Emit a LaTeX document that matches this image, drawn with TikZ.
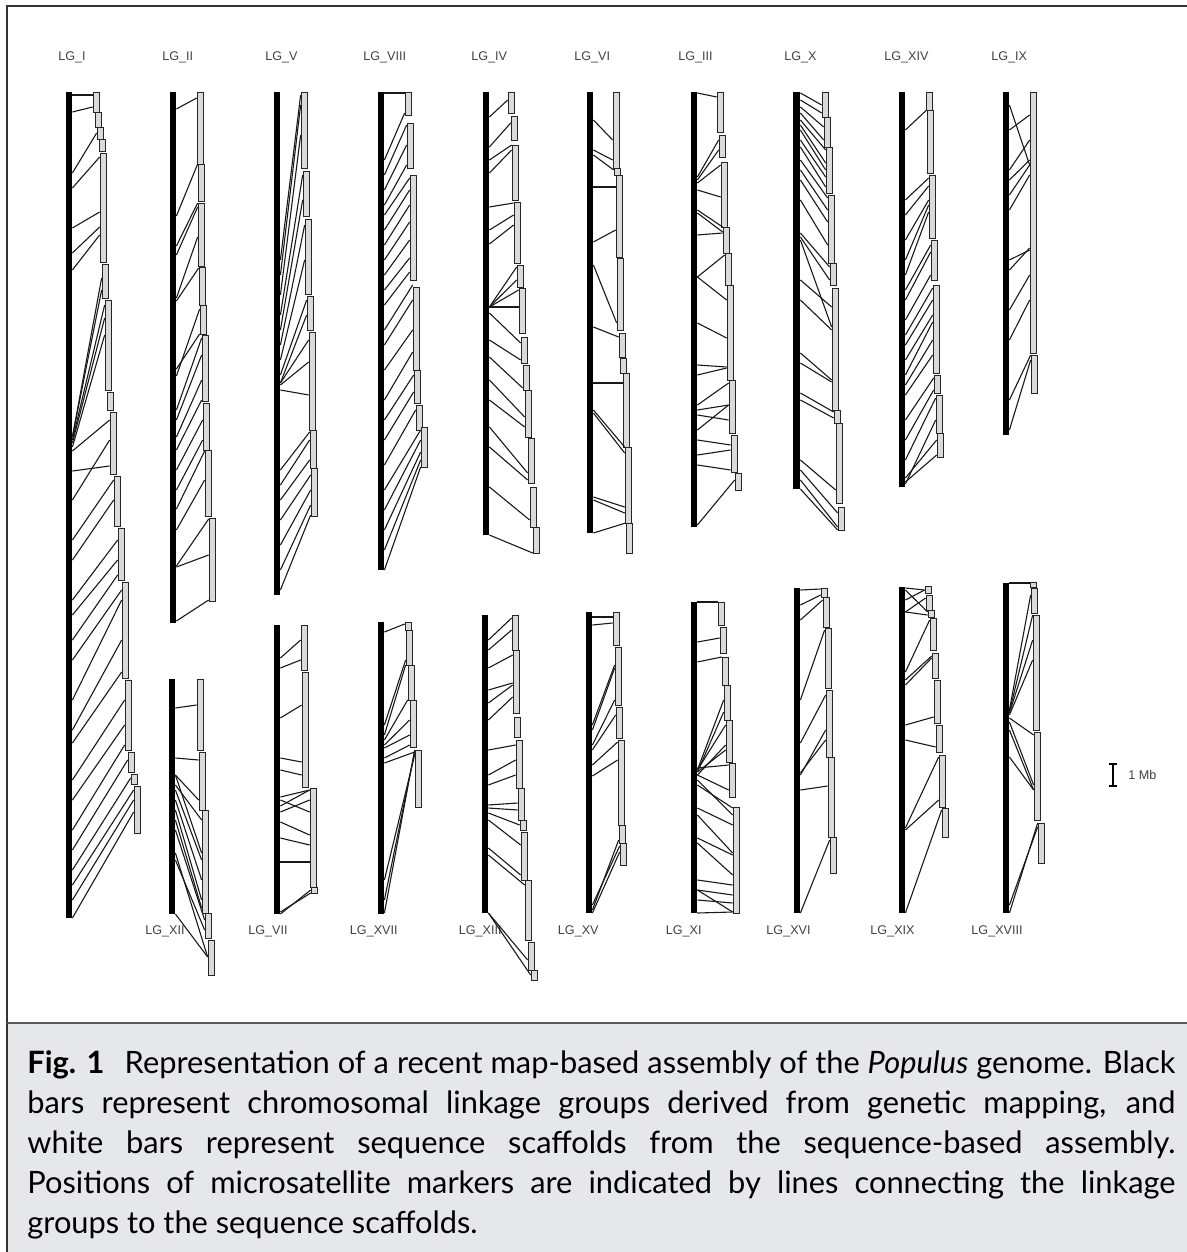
\documentclass[tikz,border=0pt]{standalone}
\usepackage{fontspec}
\setmainfont{Lato}
\newfontfamily\lgfont{Liberation Sans}
\usepackage{tikz}
\usetikzlibrary{positioning,fit,arrows.meta}
\definecolor{capGray}{HTML}{E6E7E9}
\definecolor{scafFill}{HTML}{DADADA}

\begin{document}
\begin{tikzpicture}[
    x=0.5pt, y=-0.5pt,
    lgbar/.style={fill=black, draw=none, inner sep=0pt},
    scaf/.style={draw=black!85, fill=scafFill, line width=0.35pt, inner sep=0pt},
    mk/.style={line width=0.55pt, black!90},
    lglabel/.style={font=\lgfont\fontsize{6.3}{7}\selectfont, text=black!75, inner sep=0pt}
  ]
  \useasboundingbox (0,0) rectangle (1187,1252);

  % frame and caption band
  \fill[capGray] (7,1023) rectangle (1200,1265);
  \draw[black!80, line width=0.7pt] (7,6) rectangle (1200,1265);
  \draw[black!65, line width=0.8pt] (7,1023) -- (1200,1023);

  % LG_I
  \node[lgbar, fit={(66,92) (72,918)}] (lgI) {};
  \node[lglabel, anchor=west] (lgI-lab) at (58,57) {LG\_I};
  \foreach \sx/\st/\sb [count=\k] in {93/92/112, 95/112/127, 97/127/139, 99/139/151, 100/153/262,
      102/264/298, 105/300/390, 107/392/410, 110/412/474, 114/476/526, 118/528/580, 122/582/678,
      125/680/750, 128/752/772, 131/774/784, 134/786/833}
    \node[scaf, fit={(\sx,\st) (\sx+6,\sb)}] (lgI-\k) {};
  \foreach \ya/\k/\yb in {95/1/95, 112/1/107, 173/3/133, 188/5/157, 228/5/212, 253/5/227, 270/5/235,
      437/6/278, 437/6/290, 440/7/305, 443/7/318, 447/7/335, 451/9/420, 471/9/466, 500/9/440,
      540/10/480, 560/10/500, 600/11/540, 615/11/560, 640/11/575, 660/12/590, 700/12/600,
      730/12/640, 743/12/672, 780/13/700, 800/13/725, 830/13/745, 850/14/760, 870/15/778,
      885/16/790, 900/16/800, 918/16/812}
    \draw[mk] (lgI.east |- 0,\ya) -- (lgI-\k.west |- 0,\yb);

  % LG_II
  \node[lgbar, fit={(170,92) (176,623)}] (lgII) {};
  \node[lglabel, anchor=west] (lgII-lab) at (162,57) {LG\_II};
  \foreach \sx/\st/\sb [count=\k] in {197/92/164, 198/164/201, 198/203/266, 199/267/305, 200/305/334,
      202/335/401, 203/403/450, 205/450/516, 209/518/601}
    \node[scaf, fit={(\sx,\st) (\sx+6,\sb)}] (lgII-\k) {};
  \foreach \ya/\k/\yb in {109/1/98, 216/2/164, 246/3/203, 255/3/207, 298/3/237, 301/4/268, 369/5/334,
      376/5/309, 410/6/338, 420/6/355, 437/6/380, 450/6/400, 470/7/420, 490/7/440, 509/8/451,
      530/8/480, 566/9/519, 567/9/555, 621/9/600}
    \draw[mk] (lgII.east |- 0,\ya) -- (lgII-\k.west |- 0,\yb);

  % LG_V
  \node[lgbar, fit={(274,92) (280,595)}] (lgV) {};
  \node[lglabel, anchor=west] (lgV-lab) at (265,57) {LG\_V};
  \foreach \sx/\st/\sb [count=\k] in {301/92/168, 303/171/216, 305/219/294, 307/296/330, 309/332/430,
      310/430/468, 311/468/516}
    \node[scaf, fit={(\sx,\st) (\sx+6,\sb)}] (lgV-\k) {};
  \foreach \ya/\k/\yb in {260/1/95, 275/1/105, 295/1/135, 315/2/175, 330/2/200, 345/3/225, 360/3/260,
      375/4/300, 383/4/315, 383/5/340, 385/5/362, 390/5/395, 470/6/432, 485/6/440, 500/6/460,
      520/7/475, 545/7/490, 570/7/505, 590/7/515}
    \draw[mk] (lgV.east |- 0,\ya) -- (lgV-\k.west |- 0,\yb);

  % LG_VIII
  \node[lgbar, fit={(378,92) (384,570)}] (lgVIII) {};
  \node[lglabel, anchor=west] (lgVIII-lab) at (363,57) {LG\_VIII};
  \foreach \sx/\st/\sb [count=\k] in {405/92/115, 407/123/168, 410/175/280, 413/287/370, 414/370/403,
      416/405/430, 421/427/467}
    \node[scaf, fit={(\sx,\st) (\sx+6,\sb)}] (lgVIII-\k) {};
  \foreach \ya/\k/\yb in {93/1/93, 160/1/113, 175/2/125, 190/2/145, 205/2/165, 215/3/178, 230/3/190,
      245/3/205, 260/3/222, 275/3/240, 290/3/258, 305/3/272, 330/4/285, 345/4/300, 370/4/330,
      400/4/352, 420/5/375, 440/5/392, 465/6/410, 490/7/430, 510/7/440, 530/7/452, 550/7/460,
      570/7/467}
    \draw[mk] (lgVIII.east |- 0,\ya) -- (lgVIII-\k.west |- 0,\yb);

  % LG_IV
  \node[lgbar, fit={(483,92) (489,535)}] (lgIV) {};
  \node[lglabel, anchor=west] (lgIV-lab) at (471,57) {LG\_IV};
  \foreach \sx/\st/\sb [count=\k] in {508/92/113, 511/116/140, 512/145/200, 514/202/263, 517/265/287,
      519/288/333, 521/337/363, 523/365/390, 525/390/437, 528/438/483, 530/487/527, 533/527/553}
    \node[scaf, fit={(\sx,\st) (\sx+6,\sb)}] (lgIV-\k) {};
  \foreach \ya/\k/\yb in {117/1/100, 147/2/123, 160/3/145, 173/3/150, 207/4/203, 230/4/215, 244/4/225,
      307/5/267, 307/5/280, 307/6/290, 307/6/307, 313/7/343, 340/7/360, 357/8/388, 380/9/417,
      400/9/427, 427/10/473, 447/10/480, 487/11/520, 535/12/553}
    \draw[mk] (lgIV.east |- 0,\ya) -- (lgIV-\k.west |- 0,\yb);

  % LG_VI
  \node[lgbar, fit={(587,92) (593,533)}] (lgVI) {};
  \node[lglabel, anchor=west] (lgVI-lab) at (574,57) {LG\_VI};
  \foreach \sx/\st/\sb [count=\k] in {613/92/168, 614/168/175, 616/175/257, 617/258/330, 619/333/357,
      620/358/373, 623/373/447, 625/447/523, 626/523/553}
    \node[scaf, fit={(\sx,\st) (\sx+6,\sb)}] (lgVI-\k) {};
  \foreach \ya/\k/\yb in {120/1/140, 150/1/160, 155/2/170, 187/3/187, 242/3/230, 265/4/323, 327/5/337,
      383/7/383, 410/8/447, 413/8/453, 497/8/507, 500/8/513, 533/9/523}
    \draw[mk] (lgVI.east |- 0,\ya) -- (lgVI-\k.west |- 0,\yb);

  % LG_III
  \node[lgbar, fit={(691,92) (697,527)}] (lgIII) {};
  \node[lglabel, anchor=west] (lgIII-lab) at (678,57) {LG\_III};
  \foreach \sx/\st/\sb [count=\k] in {717/92/132, 719/135/157, 721/162/227, 723/227/253, 725/253/285,
      727/285/380, 729/380/433, 731/435/472, 735/473/490}
    \node[scaf, fit={(\sx,\st) (\sx+6,\sb)}] (lgIII-\k) {};
  \foreach \ya/\k/\yb in {93/1/97, 177/2/140, 180/2/150, 183/3/165, 190/3/197, 210/4/227, 213/4/232,
      235/4/233, 277/5/255, 277/6/300, 323/6/338, 365/6/367, 375/6/368, 405/7/383, 410/7/405,
      415/7/420, 430/7/405, 440/8/445, 455/8/450, 465/8/470, 525/9/480}
    \draw[mk] (lgIII.east |- 0,\ya) -- (lgIII-\k.west |- 0,\yb);

  % LG_X
  \node[lgbar, fit={(793,92) (800,489)}] (lgX) {};
  \node[lglabel, anchor=west] (lgX-lab) at (784,57) {LG\_X};
  \foreach \sx/\st/\sb [count=\k] in {822/92/117, 824/117/147, 826/147/193, 828/195/263, 830/263/285,
      832/288/410, 834/410/423, 836/423/503, 838/507/530}
    \node[scaf, fit={(\sx,\st) (\sx+6,\sb)}] (lgX-\k) {};
  \foreach \ya/\k/\yb in {93/1/105, 100/1/113, 107/2/127, 113/2/140, 120/3/150, 125/3/163, 130/3/170,
      140/3/177, 147/3/187, 160/4/198, 170/4/210, 180/4/222, 200/4/245, 233/5/267, 237/5/280,
      240/6/327, 280/6/307, 300/6/330, 353/6/380, 363/6/382, 393/7/412, 400/7/418, 460/8/490,
      470/9/513, 480/9/527, 489/9/530}
    \draw[mk] (lgX.east |- 0,\ya) -- (lgX-\k.west |- 0,\yb);

  % LG_XIV
  \node[lgbar, fit={(899,92) (905,487)}] (lgXIV) {};
  \node[lglabel, anchor=west] (lgXIV-lab) at (884,57) {LG\_XIV};
  \foreach \sx/\st/\sb [count=\k] in {926/92/110, 927/110/173, 929/175/238, 931/240/280, 933/285/373,
      934/375/393, 936/395/433, 937/433/457}
    \node[scaf, fit={(\sx,\st) (\sx+6,\sb)}] (lgXIV-\k) {};
  \foreach \ya/\k/\yb in {130/2/110, 200/3/178, 215/3/186, 240/3/200, 260/3/205, 275/3/212, 290/4/245,
      300/4/252, 320/4/275, 335/5/288, 345/5/300, 360/5/315, 375/5/322, 385/5/340, 395/5/355,
      420/6/378, 440/6/390, 460/7/398, 478/8/440, 482/8/455, 484/7/420}
    \draw[mk] (lgXIV.east |- 0,\ya) -- (lgXIV-\k.west |- 0,\yb);

  % LG_IX
  \node[lgbar, fit={(1003,92) (1009,435)}] (lgIX) {};
  \node[lglabel, anchor=west] (lgIX-lab) at (991,57) {LG\_IX};
  \foreach \sx/\st/\sb [count=\k] in {1030/92/353, 1031/355/393}
    \node[scaf, fit={(\sx,\st) (\sx+6,\sb)}] (lgIX-\k) {};
  \foreach \ya/\k/\yb in {130/1/115, 105/1/165, 170/1/140, 180/1/160, 195/1/165, 210/1/175, 260/1/250,
      270/1/248, 310/1/275, 340/1/300, 400/2/355, 430/2/360}
    \draw[mk] (lgIX.east |- 0,\ya) -- (lgIX-\k.west |- 0,\yb);

  % LG_XII
  \node[lgbar, fit={(169,679) (175,914)}] (lgXII) {};
  \node[lglabel, anchor=east] (lgXII-lab) at (185,931) {LG\_XII};
  \foreach \sx/\st/\sb [count=\k] in {197/679/750, 199/752/810, 202/810/913, 205/913/938, 208/940/975}
    \node[scaf, fit={(\sx,\st) (\sx+6,\sb)}] (lgXII-\k) {};
  \foreach \ya/\k/\yb in {708/1/705, 758/2/760, 775/2/800, 775/3/853, 785/3/820, 790/3/860, 800/3/880,
      810/3/900, 820/3/908, 830/4/920, 860/4/930, 914/5/957, 853/5/957}
    \draw[mk] (lgXII.east |- 0,\ya) -- (lgXII-\k.west |- 0,\yb);

  % LG_VII
  \node[lgbar, fit={(274,625) (280,914)}] (lgVII) {};
  \node[lglabel, anchor=east] (lgVII-lab) at (288,931) {LG\_VII};
  \foreach \sx/\st/\sb [count=\k] in {301/625/670, 302/672/787, 310/788/887, 311/887/893}
    \node[scaf, fit={(\sx,\st) (\sx+6,\sb)}] (lgVII-\k) {};
  \foreach \ya/\k/\yb in {658/1/640, 668/1/660, 718/2/705, 758/2/762, 770/2/775, 797/3/790, 800/3/812,
      806/3/790, 812/3/800, 822/3/835, 838/3/845, 862/3/862, 914/4/890, 912/4/893}
    \draw[mk] (lgVII.east |- 0,\ya) -- (lgVII-\k.west |- 0,\yb);

  % LG_XVII
  \node[lgbar, fit={(378,622) (384,914)}] (lgXVII) {};
  \node[lglabel, anchor=east] (lgXVII-lab) at (398,931) {LG\_XVII};
  \foreach \sx/\st/\sb [count=\k] in {405/622/630, 406/630/665, 408/665/700, 410/700/747, 415/750/807}
    \node[scaf, fit={(\sx,\st) (\sx+6,\sb)}] (lgXVII-\k) {};
  \foreach \ya/\k/\yb in {632/1/624, 725/2/660, 735/2/665, 740/3/700, 745/4/720, 748/4/735, 758/4/745,
      763/5/752, 880/5/755, 900/5/752, 913/5/750}
    \draw[mk] (lgXVII.east |- 0,\ya) -- (lgXVII-\k.west |- 0,\yb);

  % LG_XIII
  \node[lgbar, fit={(482,615) (488,913)}] (lgXIII) {};
  \node[lglabel, anchor=east] (lgXIII-lab) at (502,931) {LG\_XIII};
  \foreach \sx/\st/\sb [count=\k] in {512/615/650, 513/650/713, 514/717/737, 516/740/788, 518/788/820,
      520/820/830, 521/832/880, 525/880/940, 528/942/970, 531/970/980}
    \node[scaf, fit={(\sx,\st) (\sx+6,\sb)}] (lgXIII-\k) {};
  \foreach \ya/\k/\yb in {640/1/618, 650/1/630, 668/2/655, 690/2/683, 703/2/685, 720/2/697, 750/4/745,
      775/4/760, 785/4/775, 805/5/803, 808/5/810, 813/6/825, 820/7/845, 848/7/875, 855/8/885,
      913/9/960, 913/10/975}
    \draw[mk] (lgXIII.east |- 0,\ya) -- (lgXIII-\k.west |- 0,\yb);

  % LG_XV
  \node[lgbar, fit={(586,612) (592,913)}] (lgXV) {};
  \node[lglabel, anchor=east] (lgXV-lab) at (599,931) {LG\_XV};
  \foreach \sx/\st/\sb [count=\k] in {613/612/645, 615/647/705, 616/707/738, 618/740/825, 619/825/843,
      620/843/865}
    \node[scaf, fit={(\sx,\st) (\sx+6,\sb)}] (lgXV-\k) {};
  \foreach \ya/\k/\yb in {617/1/617, 625/1/623, 725/2/665, 730/2/668, 745/2/700, 750/3/715, 765/4/742,
      776/4/760, 905/6/846, 910/5/840, 913/6/852}
    \draw[mk] (lgXV.east |- 0,\ya) -- (lgXV-\k.west |- 0,\yb);

  % LG_XI
  \node[lgbar, fit={(691,602) (697,913)}] (lgXI) {};
  \node[lglabel, anchor=east] (lgXI-lab) at (702,931) {LG\_XI};
  \foreach \sx/\st/\sb [count=\k] in {718/602/625, 720/627/653, 722/657/685, 724/685/720, 726/720/762,
      729/763/797, 733/807/913}
    \node[scaf, fit={(\sx,\st) (\sx+6,\sb)}] (lgXI-\k) {};
  \foreach \ya/\k/\yb in {602/1/602, 642/2/638, 662/3/657, 770/4/700, 772/4/712, 770/5/725, 775/5/745,
      772/5/750, 768/6/765, 775/6/790, 780/7/815, 785/7/808, 808/7/825, 815/7/853, 838/7/855,
      843/7/875, 880/7/885, 890/7/895, 900/7/903, 913/7/912, 890/7/912}
    \draw[mk] (lgXI.east |- 0,\ya) -- (lgXI-\k.west |- 0,\yb);

  % LG_XVI
  \node[lgbar, fit={(794,588) (800,913)}] (lgXVI) {};
  \node[lglabel, anchor=east] (lgXVI-lab) at (811,931) {LG\_XVI};
  \foreach \sx/\st/\sb [count=\k] in {821/588/597, 823/597/627, 825/628/688, 826/690/757, 828/757/837,
      830/837/873}
    \node[scaf, fit={(\sx,\st) (\sx+6,\sb)}] (lgXVI-\k) {};
  \foreach \ya/\k/\yb in {590/1/589, 605/1/595, 620/2/600, 700/3/630, 743/4/695, 775/4/730, 773/4/740,
      790/5/786, 913/6/840}
    \draw[mk] (lgXVI.east |- 0,\ya) -- (lgXVI-\k.west |- 0,\yb);

  % LG_XIX
  \node[lgbar, fit={(899,587) (905,913)}] (lgXIX) {};
  \node[lglabel, anchor=east] (lgXIX-lab) at (915,931) {LG\_XIX};
  \foreach \sx/\st/\sb [count=\k] in {925/586/593, 926/595/610, 928/610/617, 930/618/650, 932/653/678,
      934/680/723, 936/725/752, 939/755/807, 942/808/837}
    \node[scaf, fit={(\sx,\st) (\sx+6,\sb)}] (lgXIX-\k) {};
  \foreach \ya/\k/\yb in {588/1/590, 600/1/590, 612/2/598, 590/3/612, 612/3/615, 672/4/620, 680/5/656,
      685/5/658, 725/6/717, 740/7/747, 828/8/757, 830/8/800, 913/9/810}
    \draw[mk] (lgXIX.east |- 0,\ya) -- (lgXIX-\k.west |- 0,\yb);

  % LG_XVIII
  \node[lgbar, fit={(1003,583) (1009,913)}] (lgXVIII) {};
  \node[lglabel, anchor=east] (lgXVIII-lab) at (1023,931) {LG\_XVIII};
  \foreach \sx/\st/\sb [count=\k] in {1030/582/587, 1031/588/613, 1033/615/730, 1034/732/820,
      1038/823/863}
    \node[scaf, fit={(\sx,\st) (\sx+6,\sb)}] (lgXVIII-\k) {};
  \foreach \ya/\k/\yb in {583/1/583, 710/2/595, 712/3/615, 713/3/640, 715/3/660, 718/4/735, 722/4/785,
      730/4/790, 757/4/790, 913/5/823, 905/5/827}
    \draw[mk] (lgXVIII.east |- 0,\ya) -- (lgXVIII-\k.west |- 0,\yb);

  % scale
  \coordinate (mbtop) at (1113,763);
  \coordinate (mbbot) at (1113,787);
  \draw[{Bar[width=4pt]}-{Bar[width=4pt]}, line width=0.9pt] (mbtop) -- (mbbot);
  \node[lglabel, anchor=west] (mb) at (1128,775) {1 Mb};

  % caption
  \node[anchor=north west, text width=574pt, align=justify, inner sep=0pt,
        font=\fontsize{15.4}{20}\selectfont] (caption) at (27,1050)
    {\textbf{Fig. 1}\hspace{0.4em} Representation of a recent map-based assembly of the \textit{Populus} genome. Black\linebreak
     bars represent chromosomal linkage groups derived from genetic mapping, and\linebreak
     white bars represent sequence scaffolds from the sequence-based assembly.\linebreak
     Positions of microsatellite markers are indicated by lines connecting the linkage\linebreak
     groups to the sequence scaffolds.};
\end{tikzpicture}
\end{document}
